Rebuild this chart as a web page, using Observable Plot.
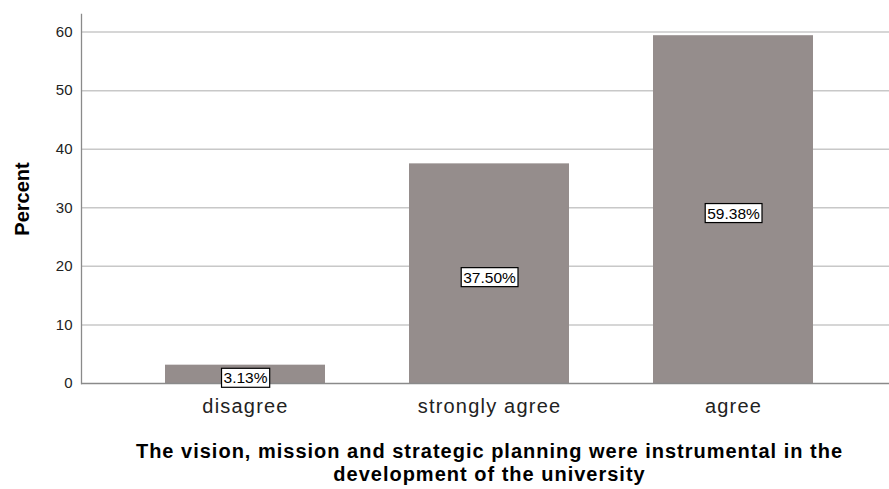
<!DOCTYPE html>
<html>
<head>
<meta charset="utf-8">
<script src="https://cdn.jsdelivr.net/npm/d3@7"></script>
<script src="https://cdn.jsdelivr.net/npm/@observablehq/plot@0.6"></script>
<style>
  body { margin: 0; background: #fff; font-family: "Liberation Sans", Arial, sans-serif; }
  #chart { position: relative; width: 889px; }
  #caption { margin-left: 90px; width: 799px; text-align: center; font-weight: bold; font-size: 20px; letter-spacing: 1px; line-height: 23px; color: #000; margin-top: 10px; }
  g[aria-label="x-axis tick label"] text { letter-spacing: 1.2px; }
</style>
</head>
<body>
<div id="chart"></div>
<div id="caption">The vision, mission and strategic planning were instrumental in the<br>development of the university</div>
<script>
const categories = ["disagree", "strongly agree", "agree"];
const percents = [3.13, 37.50, 59.38];
const labels = ["3.13%", "37.50%", "59.38%"];
const yTicks = [0, 10, 20, 30, 40, 50, 60];

const data = categories.map((c, i) => ({category: c, value: percents[i], label: labels[i]}));

const plot = Plot.plot({
  width: 889,
  height: 430,
  marginLeft: 81,
  marginRight: 0,
  marginTop: 14,
  marginBottom: 47,
  style: {fontFamily: "'Liberation Sans', Arial, sans-serif", background: "#fff"},
  x: {type: "band", domain: categories, range: [81, 898], paddingInner: 0.343, paddingOuter: 0.343, align: 0.5, label: null},
  y: {domain: [0, 63], range: [383, 14], label: null},
  marks: [
    Plot.ruleY(yTicks.filter(d => d > 0), {stroke: "#c8c8c8", strokeWidth: 1.5, strokeOpacity: 1}),
    Plot.barY(data, {x: "category", y: "value", fill: "#958d8c"}),
    Plot.ruleY([0], {stroke: "#8a8a8a", strokeWidth: 1.3}),
    Plot.frame({anchor: "left", stroke: "#8a8a8a", strokeWidth: 1.3}),
    Plot.axisY({ticks: yTicks, tickSize: 0, tickPadding: 9, fontSize: 15, color: "#222", label: null}),
    Plot.axisX({tickSize: 0, tickPadding: 15, fontSize: 20, color: "#222", label: null}),
    Plot.text(data, {x: "category", y: d => d.value / 2, text: "label", dy: 4, fontSize: 15.5, fill: "#000", className: "vlabel"}),
    Plot.text(["Percent"], {frameAnchor: "left", textAnchor: "middle", dx: -59, rotate: -90, fontSize: 20, fontWeight: "bold", fill: "#000"})
  ]
});
document.getElementById("chart").appendChild(plot);

// draw boxes behind value labels
d3.select(plot).selectAll("g.vlabel text").each(function() {
  const bb = this.getBBox();
  d3.select(this.parentNode).insert("rect", () => this)
    .attr("x", bb.x - 2).attr("y", bb.y - 1)
    .attr("width", bb.width + 4).attr("height", bb.height + 2)
    .attr("fill", "#fff").attr("stroke", "#000").attr("stroke-width", 1.2)
    .attr("transform", this.getAttribute("transform"));
});
</script>
</body>
</html>
